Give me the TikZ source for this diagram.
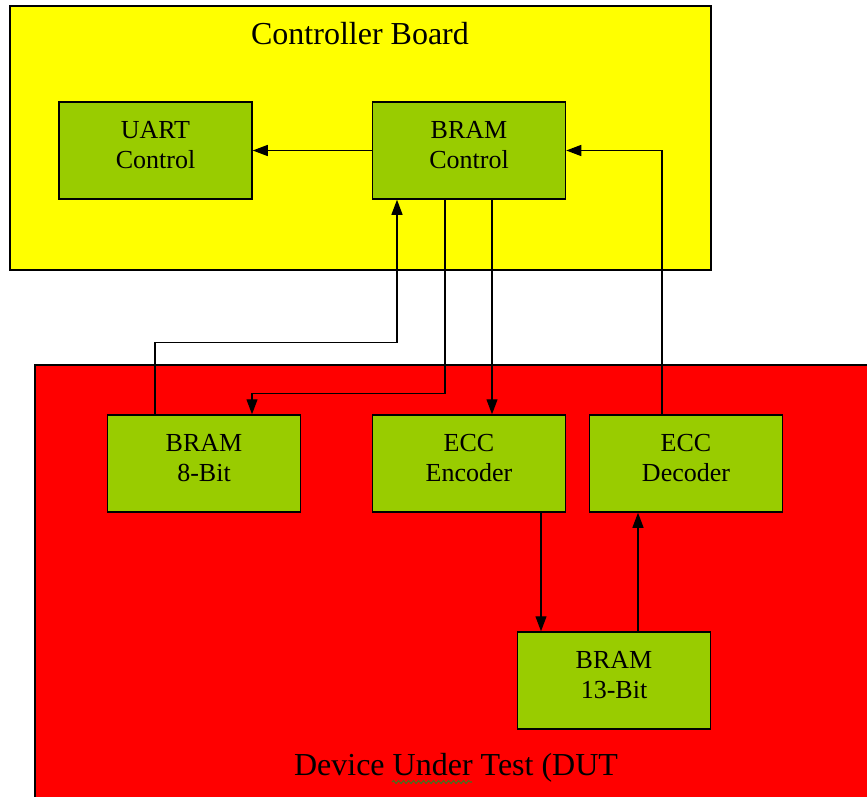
\documentclass[tikz,border=0pt]{standalone}
\usepackage{fontspec}
\setmainfont{Liberation Serif}
\usetikzlibrary{arrows.meta,positioning,decorations.pathmorphing}
\definecolor{boardyellow}{RGB}{255,255,0}
\definecolor{dutred}{RGB}{255,0,0}
\definecolor{blkgreen}{RGB}{153,204,0}
\definecolor{spellgreen}{RGB}{70,110,30}

\begin{document}
\begin{tikzpicture}[x=1pt,y=-1pt,
  blk/.style={draw,line width=1.5pt,fill=blkgreen,minimum width=193pt,minimum height=97pt,align=center,font=\fontsize{26}{30}\selectfont,text depth=12pt},
  arr/.style={-{Triangle[length=15pt,width=11pt]},line width=1.3pt},
  boardtitle/.style={font=\fontsize{32}{36}\selectfont,anchor=base,inner sep=0pt}]
\clip (0,0) rectangle (867,797);
\fill[white] (0,0) rectangle (867,797);
% the two boards
\draw[line width=1.5pt,fill=boardyellow] (10,6) rectangle (711,270);
\draw[line width=1.5pt,fill=dutred] (35,365) rectangle (880,810);
\node[boardtitle] (ctltitle) at (360,45) {Controller Board};
\node[boardtitle] (duttitle) at (456,775) {Device Under Test (DUT};
\draw[spellgreen,line width=1.1pt,decorate,decoration={snake,segment length=5pt,amplitude=1.5pt}] (392,782)--(472,782);
% blocks
\node[blk] (uart) at (155.5,150.5) {UART\\Control};
\node[blk] (bramctl) at (469,150.5) {BRAM\\Control};
\node[blk] (bram8) at (204,463.5) {BRAM\\8-Bit};
\node[blk] (eccenc) at (469,463.5) {ECC\\Encoder};
\node[blk] (eccdec) at (686,463.5) {ECC\\Decoder};
\node[blk] (bram13) at (614,680.5) {BRAM\\13-Bit};
% connectors
\draw[arr] (bramctl.west)--(uart.east);
\draw[arr] ([xshift=-49pt]bram8.north)--++(0,-72)-|([xshift=-72pt]bramctl.south);
\draw[arr] ([xshift=-24pt]bramctl.south)--++(0,194)-|([xshift=48pt]bram8.north);
\draw[arr] ([xshift=23pt]bramctl.south)--([xshift=23pt]bramctl.south|-eccenc.north);
\draw[arr] ([xshift=-24pt]eccdec.north)|-(bramctl.east);
\draw[arr] ([xshift=72pt]eccenc.south)--([xshift=72pt]eccenc.south|-bram13.north);
\draw[arr] ([xshift=24pt]bram13.north)--([xshift=24pt]bram13.north|-eccdec.south);
\end{tikzpicture}
\end{document}
